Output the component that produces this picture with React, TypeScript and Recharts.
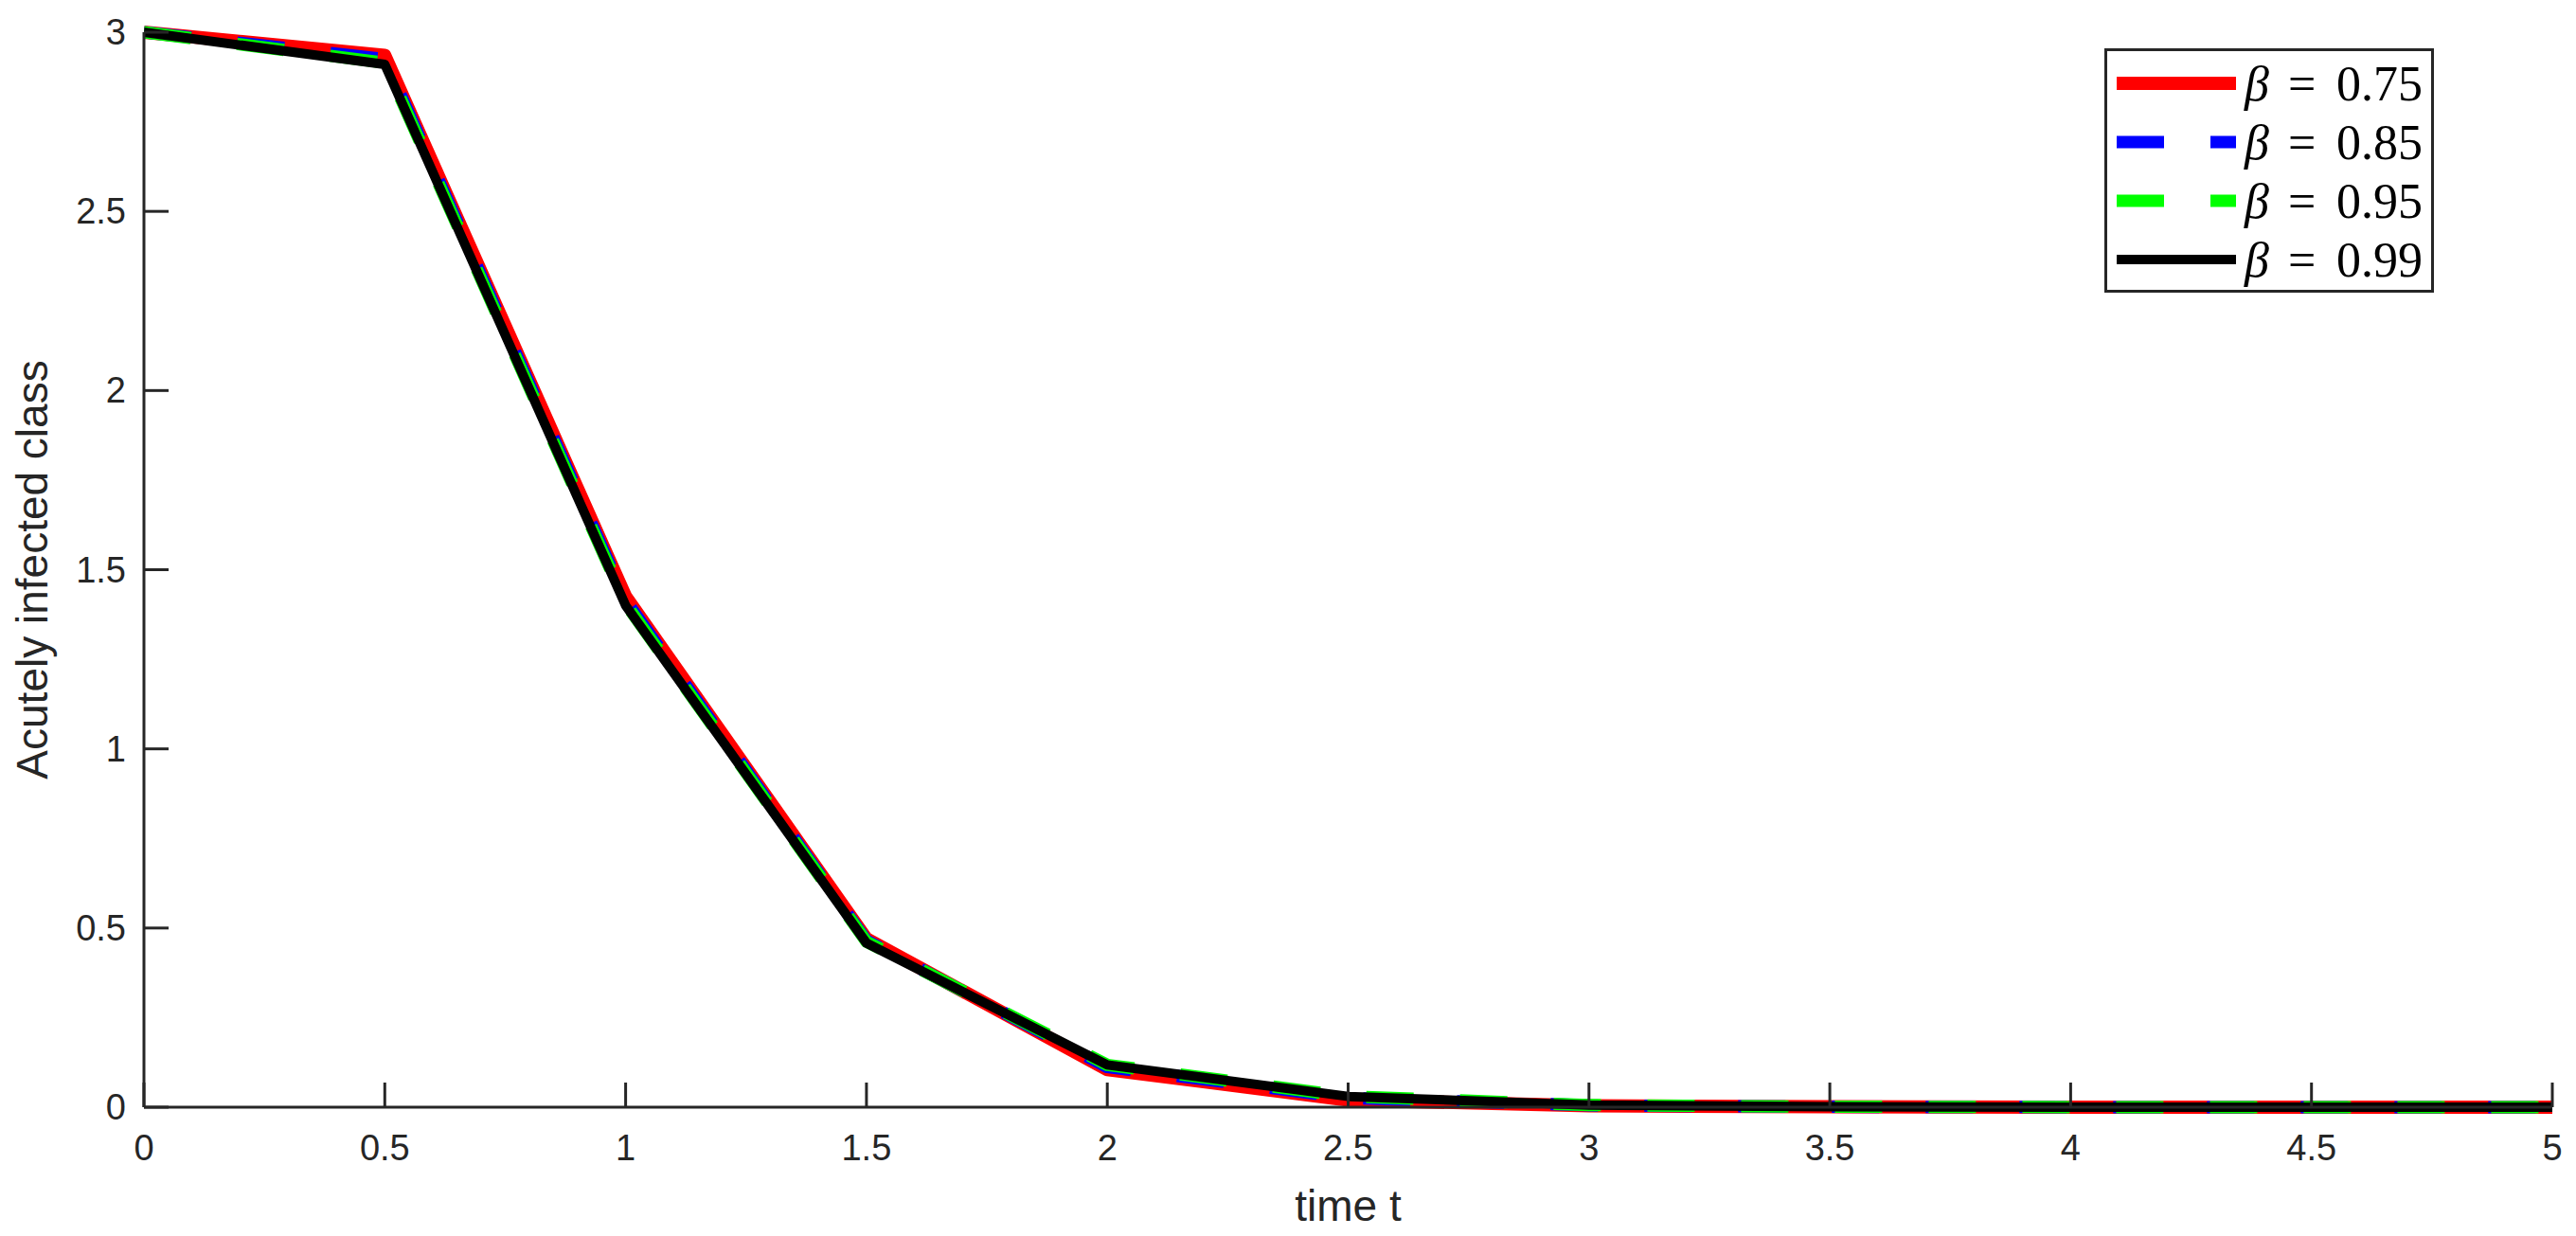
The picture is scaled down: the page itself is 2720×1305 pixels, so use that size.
import { LineChart, Line, XAxis, YAxis, Legend, Label } from 'recharts';

// time points and the four solution curves
const times = [0, 0.5, 1, 1.5, 2, 2.5, 3, 3.5, 4, 4.5, 5];
const beta075 = [3, 2.935, 1.425, 0.47, 0.105, 0.02, 0.004, 0.001, 0.0002, 0, 0];
const beta085 = [3, 2.925, 1.415, 0.465, 0.112, 0.026, 0.005, 0.001, 0.0002, 0, 0];
const beta095 = [3, 2.915, 1.405, 0.462, 0.118, 0.03, 0.006, 0.0012, 0.0003, 0, 0];
const beta099 = [3, 2.91, 1.4, 0.458, 0.118, 0.03, 0.006, 0.0012, 0.0003, 0, 0];

const xTicks = [0, 0.5, 1, 1.5, 2, 2.5, 3, 3.5, 4, 4.5, 5];
const yTicks = [0, 0.5, 1, 1.5, 2, 2.5, 3];

const series = [
  { key: 'b075', label: '0.75', color: '#ff0000', width: 14, dash: undefined },
  { key: 'b085', label: '0.85', color: '#0000ff', width: 13, dash: '50 49' },
  { key: 'b095', label: '0.95', color: '#00ff00', width: 13, dash: '50 49' },
  { key: 'b099', label: '0.99', color: '#000000', width: 10, dash: undefined },
];

const data = times.map((t, i) => ({
  t,
  b075: beta075[i],
  b085: beta085[i],
  b095: beta095[i],
  b099: beta099[i],
}));

const AXIS = '#262626';
const SANS = "'Liberation Sans', Arial, sans-serif";
const TICK_LEN = 26;

const BottomTick = (props: any) => {
  const { x, y, payload } = props;
  return (
    <g>
      <line x1={x} y1={y} x2={x} y2={y - TICK_LEN} stroke={AXIS} strokeWidth={3} />
      <text x={x} y={y + 43} textAnchor="middle" dominantBaseline="central" fontFamily={SANS} fontSize={38} fill={AXIS}>
        {payload.value}
      </text>
    </g>
  );
};

const TopTick = (props: any) => {
  const { x, y } = props;
  return <line x1={x} y1={y} x2={x} y2={y + TICK_LEN} stroke={AXIS} strokeWidth={3} />;
};

const LeftTick = (props: any) => {
  const { x, y, payload } = props;
  return (
    <g>
      <line x1={x} y1={y} x2={x + TICK_LEN} y2={y} stroke={AXIS} strokeWidth={3} />
      <text x={x - 19} y={y} textAnchor="end" dominantBaseline="central" fontFamily={SANS} fontSize={38} fill={AXIS}>
        {payload.value}
      </text>
    </g>
  );
};

const RightTick = (props: any) => {
  const { x, y } = props;
  return <line x1={x} y1={y} x2={x - TICK_LEN} y2={y} stroke={AXIS} strokeWidth={3} />;
};

const LegendBox = () => (
  <svg width={348} height={258} style={{ display: 'block' }}>
    <rect x={1.5} y={1.5} width={345} height={255} fill="#fff" stroke={AXIS} strokeWidth={3} />
    {series.map((s, i) => {
      const cy = 37 + i * 62;
      return (
        <g key={s.key}>
          <line x1={13} y1={cy} x2={139} y2={cy} stroke={s.color} strokeWidth={s.width} strokeDasharray={s.dash} />
          <text y={cy} dominantBaseline="central" fontFamily="'Liberation Serif', 'DejaVu Serif', serif" fontSize={52} fill="#000">
            <tspan x={148} fontStyle="italic">β</tspan>
            <tspan x={194}>=</tspan>
            <tspan x={245}>{s.label}</tspan>
          </text>
        </g>
      );
    })}
  </svg>
);

export default function App() {
  return (
    <div style={{ position: 'absolute', left: 0, top: 0, width: 2720, height: 1305, background: '#fff' }}>
      <LineChart width={2720} height={1305} data={data} margin={{ top: 34, right: 25, left: 0, bottom: 0 }}>
        <XAxis
          dataKey="t"
          type="number"
          domain={[0, 5]}
          ticks={xTicks}
          height={136}
          tickSize={0}
          tickMargin={0}
          tickLine={false}
          axisLine={{ stroke: AXIS, strokeWidth: 3 }}
          tick={<BottomTick />}
          interval={0}
        >
          <Label
            content={(p: any) => {
              const vb = p.viewBox || {};
              return (
                <text x={vb.x + vb.width / 2} y={vb.y + 120} textAnchor="middle" fontFamily={SANS} fontSize={46} fill={AXIS}>
                  time t
                </text>
              );
            }}
          />
        </XAxis>
        <XAxis
          xAxisId="top"
          orientation="top"
          dataKey="t"
          type="number"
          domain={[0, 5]}
          ticks={xTicks}
          height={0}
          tickSize={0}
          tickMargin={0}
          tickLine={false}
          axisLine={{ stroke: AXIS, strokeWidth: 3 }}
          tick={<TopTick />}
          interval={0}
        />
        <YAxis
          type="number"
          domain={[0, 3]}
          ticks={yTicks}
          width={152}
          tickSize={0}
          tickMargin={0}
          tickLine={false}
          axisLine={{ stroke: AXIS, strokeWidth: 3 }}
          tick={<LeftTick />}
          interval={0}
        >
          <Label
            content={(p: any) => {
              const vb = p.viewBox || {};
              const cy = vb.y + vb.height / 2;
              return (
                <text x={50} y={cy} transform={`rotate(-90 50 ${cy})`} textAnchor="middle" fontFamily={SANS} fontSize={46} fill={AXIS}>
                  Acutely infected class
                </text>
              );
            }}
          />
        </YAxis>
        <YAxis
          yAxisId="right"
          orientation="right"
          type="number"
          domain={[0, 3]}
          ticks={yTicks}
          width={0}
          tickSize={0}
          tickMargin={0}
          tickLine={false}
          axisLine={{ stroke: AXIS, strokeWidth: 3 }}
          tick={<RightTick />}
          interval={0}
        />
        {series.map((s) => (
          <Line
            key={s.key}
            type="linear"
            dataKey={s.key}
            stroke={s.color}
            strokeWidth={s.width}
            strokeDasharray={s.dash}
            strokeLinejoin="round"
            dot={false}
            activeDot={false}
            isAnimationActive={false}
          />
        ))}
        <Legend
          layout="horizontal"
          verticalAlign="middle"
          align="center"
          content={() => <LegendBox />}
          wrapperStyle={{ position: 'absolute', left: 2222, top: 51, width: 348, height: 258 }}
        />
      </LineChart>
    </div>
  );
}
